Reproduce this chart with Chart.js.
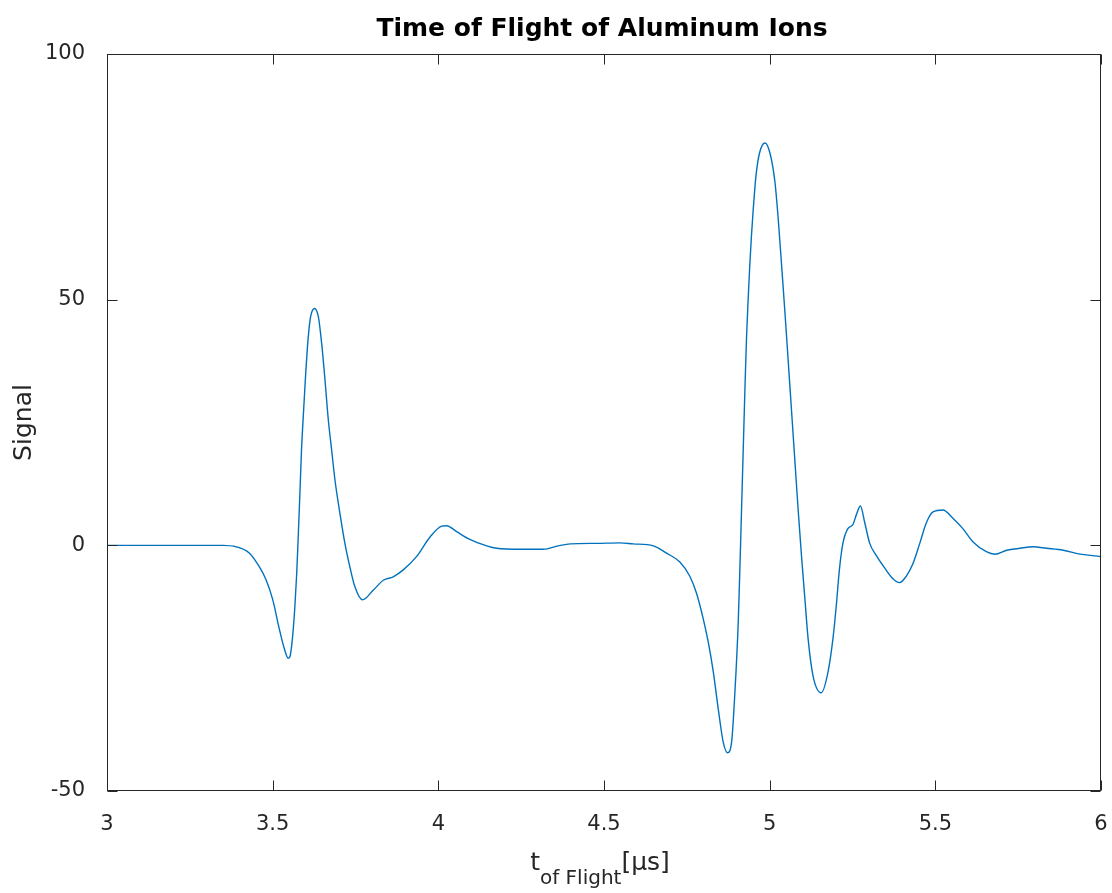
<!DOCTYPE html>
<html>
<head>
<meta charset="utf-8">
<script src="https://cdn.jsdelivr.net/npm/chart.js@4.4.1/dist/chart.umd.min.js"></script>
<style>
  html, body { margin: 0; padding: 0; background: #fff; }
  #wrap { width: 1112px; height: 893px; position: relative; }
</style>
</head>
<body>
<div id="wrap"><canvas id="tof"></canvas></div>
<script>
// time of flight in microseconds
const timeUs = [
  3.00, 3.20, 3.35, 3.39, 3.43, 3.46, 3.48, 3.50, 3.52, 3.535, 3.547, 3.552, 3.557, 3.562,
  3.567, 3.5725, 3.577, 3.582, 3.587, 3.594, 3.600, 3.605, 3.610, 3.615, 3.626, 3.638, 3.648,
  3.658, 3.668, 3.678, 3.688, 3.703, 3.718, 3.733, 3.748, 3.771, 3.804, 3.834, 3.864, 3.894,
  3.934, 3.975, 4.01, 4.025, 4.055, 4.095, 4.146, 4.176, 4.246, 4.317, 4.362, 4.398, 4.478,
  4.548, 4.588, 4.649, 4.689, 4.729, 4.759, 4.779, 4.799, 4.815, 4.83, 4.845, 4.86, 4.873,
  4.885, 4.895, 4.905, 4.910, 4.915, 4.920, 4.925, 4.930, 4.935, 4.940, 4.945, 4.950, 4.955,
  4.960, 4.970, 4.986, 5.001, 5.016, 5.026, 5.036, 5.046, 5.056, 5.066, 5.076, 5.086, 5.096,
  5.106, 5.116, 5.131, 5.156, 5.176, 5.191, 5.201, 5.211, 5.221, 5.236, 5.251, 5.262, 5.274,
  5.287, 5.302, 5.322, 5.347, 5.372, 5.392, 5.412, 5.432, 5.453, 5.473, 5.493, 5.523, 5.553,
  5.583, 5.614, 5.654, 5.68, 5.715, 5.755, 5.795, 5.836, 5.886, 5.936, 5.99, 6.00
];
// detector signal
const signal = [
  0, 0, 0, -0.3, -1.6, -4.4, -7, -11, -17, -21, -23, -22.7, -20.6, -17.2,
  -12.5, -5.8, 1.5, 10.2, 19.3, 28.2, 35.3, 40.4, 44.2, 46.7, 48.2, 46.5, 41,
  33.6, 25.5, 19.4, 13.3, 6.5, 0.4, -4.4, -8.4, -11.1, -9.1, -7.1, -6.4, -5.0,
  -2.3, 1.7, 3.9, 4.0, 2.8, 1.2, -0.1, -0.6, -0.8, -0.8, -0.1, 0.3, 0.4,
  0.5, 0.3, -0.1, -1.6, -3.4, -6.3, -9.7, -14.8, -19.8, -25.8, -33.4, -40.1, -42.2,
  -40.1, -30, -16, -5, 7, 19, 31, 42, 50, 57, 63, 68, 72.5,
  76, 80, 81.9, 79.8, 73.9, 66.3, 57, 47.5, 37.5, 27.4, 17.3, 7.2, -2.1,
  -10.6, -19, -26.6, -30, -25.8, -19, -12.3, -4.6, 0.4, 3.4, 4.2, 6.3, 8.0,
  4.6, 0.4, -2.1, -4.6, -6.8, -7.6, -6.3, -3.8, 0.4, 4.6, 6.8, 7.2, 5.5,
  3.4, 0.7, -1.3, -1.8, -1.0, -0.6, -0.3, -0.6, -1.0, -1.8, -2.2, -2.3
];
const xTicks = [3, 3.5, 4, 4.5, 5, 5.5, 6];
const yTicks = [-50, 0, 50, 100];

const titleText = 'Time of Flight of Aluminum Ions';
const yLabel = 'Signal';
const xLabelParts = ['t', 'of Flight', '[\u03bcs]'];

const AXIS = '#262626';
const FONT = '"DejaVu Sans", sans-serif';

// MATLAB-style box with inward ticks and text labels
const framePlugin = {
  id: 'frame',
  afterDraw(chart) {
    const { ctx, chartArea: a, scales: { x, y } } = chart;
    const L = a.left + 0.5, R = a.right - 0.5, T = a.top + 0.5, B = a.bottom - 0.5;
    ctx.save();
    ctx.strokeStyle = AXIS;
    ctx.lineWidth = 1;
    ctx.strokeRect(L, T, R - L, B - T);
    ctx.beginPath();
    xTicks.forEach(v => {
      const px = Math.round(x.getPixelForValue(v)) + 0.5;
      ctx.moveTo(px, B); ctx.lineTo(px, B - 10);
      ctx.moveTo(px, T); ctx.lineTo(px, T + 10);
    });
    yTicks.forEach(v => {
      const py = Math.round(y.getPixelForValue(v)) + 0.5;
      ctx.moveTo(L, py); ctx.lineTo(L + 10, py);
      ctx.moveTo(R, py); ctx.lineTo(R - 10, py);
    });
    ctx.stroke();

    // title
    ctx.fillStyle = '#000';
    ctx.font = 'bold 25px ' + FONT;
    ctx.textAlign = 'center';
    ctx.textBaseline = 'alphabetic';
    ctx.fillText(titleText, 602, 36);

    // y axis label
    ctx.fillStyle = AXIS;
    ctx.font = '25px ' + FONT;
    ctx.save();
    ctx.translate(31, (a.top + a.bottom) / 2);
    ctx.rotate(-Math.PI / 2);
    ctx.fillText(yLabel, 0, 0);
    ctx.restore();

    // x axis label with subscript
    const big = '25px ' + FONT, small = '20px ' + FONT;
    ctx.textAlign = 'left';
    ctx.font = big;
    const w0 = ctx.measureText(xLabelParts[0]).width;
    const w2 = ctx.measureText(xLabelParts[2]).width;
    ctx.font = small;
    const w1 = ctx.measureText(xLabelParts[1]).width;
    let cx = 600 - (w0 + w1 + w2) / 2;
    ctx.font = big;
    ctx.fillText(xLabelParts[0], cx, 870); cx += w0;
    ctx.font = small;
    ctx.fillText(xLabelParts[1], cx, 884); cx += w1;
    ctx.font = big;
    ctx.fillText(xLabelParts[2], cx, 870);
    ctx.restore();
  }
};

new Chart(document.getElementById('tof'), {
  type: 'line',
  data: {
    datasets: [{
      data: timeUs.map((t, i) => ({ x: t, y: signal[i] })),
      borderColor: '#0072BD',
      borderWidth: 1.4,
      pointRadius: 0,
      cubicInterpolationMode: 'monotone',
      fill: false
    }]
  },
  options: {
    responsive: true,
    maintainAspectRatio: false,
    animation: false,
    layout: { padding: { top: 54, right: 11, left: 0, bottom: 0 } },
    plugins: { legend: { display: false }, tooltip: { enabled: false } },
    scales: {
      x: {
        type: 'linear',
        min: 3, max: 6,
        afterBuildTicks: s => { s.ticks = xTicks.map(v => ({ value: v })); },
        afterFit: s => { s.height = 102; s.paddingLeft = 0; s.paddingRight = 0; },
        grid: { display: false },
        border: { display: false },
        ticks: {
          color: AXIS, font: { family: FONT, size: 21 }, padding: 13, maxRotation: 0,
          callback: v => String(v)
        }
      },
      y: {
        min: -50, max: 100,
        afterBuildTicks: s => { s.ticks = yTicks.map(v => ({ value: v })); },
        afterFit: s => { s.width = 107; s.paddingTop = 0; s.paddingBottom = 0; },
        grid: { display: false },
        border: { display: false },
        ticks: { color: AXIS, font: { family: FONT, size: 21 }, padding: 14, callback: v => String(v) }
      }
    }
  },
  plugins: [framePlugin]
});
</script>
</body>
</html>
